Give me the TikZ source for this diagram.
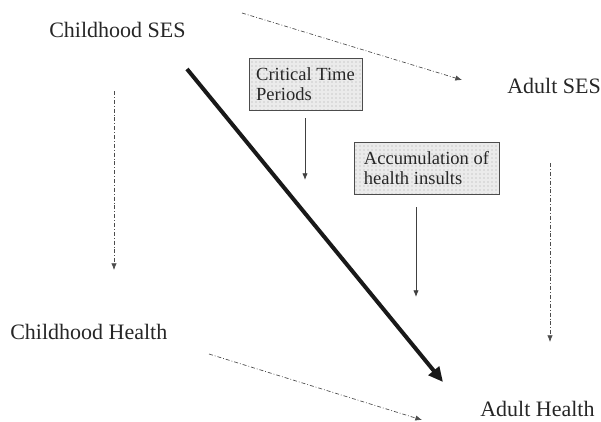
\documentclass[tikz,border=0pt]{standalone}
\usepackage{fontspec}
\setmainfont{Liberation Serif}
\usetikzlibrary{arrows.meta,patterns}
\begin{document}
\begin{tikzpicture}[x=0.75pt,y=-0.75pt,
  lbl/.style={inner sep=0pt,anchor=base west,font=\fontsize{16.5}{19}\selectfont,text=black!85},
  boxnode/.style={draw=black!70,line width=0.6pt,preaction={fill=black!8},pattern=dots,pattern color=black!35,
    font=\fontsize{13.9}{14.6}\selectfont,align=left,inner sep=0pt,text=black!85},
  dd/.style={draw=black!70,line width=0.5pt,dash pattern=on 3pt off 1.5pt on 0.6pt off 1.5pt,-{Latex[length=5pt,width=4pt]}},
  solidarr/.style={draw=black!75,line width=0.6pt,-{Latex[length=5pt,width=4pt]}},
  thickarr/.style={draw=black!90,line width=3pt,-{Triangle[length=11pt,width=10pt]}}
]
\useasboundingbox (0,0) rectangle (601,422);
% text labels
\node[lbl] (cses) at (49,37) {Childhood SES};
\node[lbl] (ases) at (507,93) {Adult SES};
\node[lbl] (chealth) at (10,339) {Childhood Health};
\node[lbl] (ahealth) at (480,416) {Adult Health};
% boxes
\node[boxnode,minimum width=84.75pt,minimum height=39pt] (ctp) at (305.5,84) {Critical Time\\Periods};
\node[boxnode,minimum width=108.75pt,minimum height=39pt] (acc) at (426.5,168) {Accumulation of\\health insults};
% connector ends
\coordinate (t1s) at (242,13);  \coordinate (t1e) at (462,80);
\coordinate (l1s) at (114,91);  \coordinate (l1e) at (114,270);
\coordinate (r1s) at (550,163); \coordinate (r1e) at (550,342);
\coordinate (b1s) at (209,354); \coordinate (b1e) at (422,420);
\coordinate (ths) at (187,69);  \coordinate (the) at (443,382);
\coordinate (c1s) at (305,118); \coordinate (c1e) at (305,180);
\coordinate (c2s) at (416,207); \coordinate (c2e) at (416,297);
% connectors
\draw[dd] (t1s) -- (t1e);
\draw[dd] (l1s) -- (l1e);
\draw[dd] (r1s) -- (r1e);
\draw[dd] (b1s) -- (b1e);
\draw[solidarr] (c1s) -- (c1e);
\draw[solidarr] (c2s) -- (c2e);
\draw[thickarr] (ths) -- (the);
\end{tikzpicture}
\end{document}
